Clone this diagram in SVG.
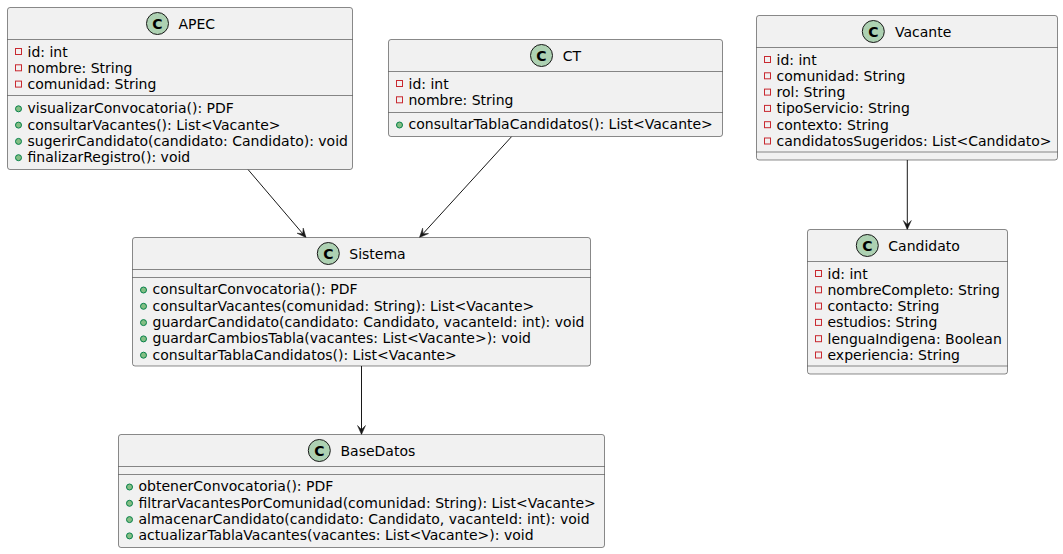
<svg xmlns="http://www.w3.org/2000/svg" width="1063" height="554" viewBox="0 0 1063 554">
<style>
.box{fill:#F1F1F1;stroke:#181818;stroke-width:0.5}
.sep{stroke:#181818;stroke-width:0.5}
.ci{fill:#ADD1B2;stroke:#181818;stroke-width:1}
.cl{font-family:"DejaVu Sans",sans-serif;font-size:14px;font-weight:bold;fill:#000;text-anchor:middle}
.t{font-family:"DejaVu Sans",sans-serif;font-size:14px;fill:#000}
.pr{fill:none;stroke:#C82930;stroke-width:1}
.pu{fill:#84BE84;stroke:#038048;stroke-width:1}
.edge{stroke:#181818;stroke-width:1;fill:none}
</style>
<defs>
<marker id="arr" viewBox="0 0 10 10" refX="10" refY="5" markerWidth="10" markerHeight="10" orient="auto" markerUnits="userSpaceOnUse">
<path d="M1,1 L10,5 L1,9 L5,5 Z" fill="#181818" stroke="#181818" stroke-width="0.5"/>
</marker>
</defs>
<rect width="1063" height="554" fill="#FFFFFF"/>

<g id="connectors">
<path class="edge" d="M248,169.5 L306,237.5" marker-end="url(#arr)"/>
<path class="edge" d="M511.7,136.5 L419.5,237.5" marker-end="url(#arr)"/>
<path class="edge" d="M361.5,366 L361.5,434.5" marker-end="url(#arr)"/>
<path class="edge" d="M907.3,160 L907.3,229.5" marker-end="url(#arr)"/>
</g>

<g id="APEC">
<rect class="box" x="7.5" y="7.5" width="345" height="162" rx="2.5"/>
<line class="sep" x1="7.5" y1="39.5" x2="352.5" y2="39.5"/>
<line class="sep" x1="7.5" y1="95.5" x2="352.5" y2="95.5"/>
<circle class="ci" cx="157.5" cy="23.5" r="11"/>
<text class="cl" x="157.5" y="28.5">C</text>
<text class="t" x="178.5" y="28.5">APEC</text>
<rect class="pr" x="15.5" y="48.5" width="6" height="6"/>
<text class="t" x="27.5" y="56.5">id: int</text>
<rect class="pr" x="15.5" y="64.8" width="6" height="6"/>
<text class="t" x="27.5" y="72.8">nombre: String</text>
<rect class="pr" x="15.5" y="81.1" width="6" height="6"/>
<text class="t" x="27.5" y="89.1">comunidad: String</text>
<circle class="pu" cx="18.5" cy="108.8" r="3"/>
<text class="t" x="27.5" y="113.2">visualizarConvocatoria(): PDF</text>
<circle class="pu" cx="18.5" cy="125.1" r="3"/>
<text class="t" x="27.5" y="129.5">consultarVacantes(): List&lt;Vacante&gt;</text>
<circle class="pu" cx="18.5" cy="141.4" r="3"/>
<text class="t" x="27.5" y="145.8">sugerirCandidato(candidato: Candidato): void</text>
<circle class="pu" cx="18.5" cy="157.7" r="3"/>
<text class="t" x="27.5" y="162.1">finalizarRegistro(): void</text>
</g>

<g id="CT">
<rect class="box" x="388.5" y="39.5" width="334" height="97" rx="2.5"/>
<line class="sep" x1="388.5" y1="71.5" x2="722.5" y2="71.5"/>
<line class="sep" x1="388.5" y1="112.5" x2="722.5" y2="112.5"/>
<circle class="ci" cx="541.5" cy="55.5" r="11"/>
<text class="cl" x="541.5" y="60.5">C</text>
<text class="t" x="562.7" y="60.5">CT</text>
<rect class="pr" x="396.5" y="80.5" width="6" height="6"/>
<text class="t" x="408.5" y="88.5">id: int</text>
<rect class="pr" x="396.5" y="96.8" width="6" height="6"/>
<text class="t" x="408.5" y="104.8">nombre: String</text>
<circle class="pu" cx="399.5" cy="125" r="3"/>
<text class="t" x="408.5" y="129.4">consultarTablaCandidatos(): List&lt;Vacante&gt;</text>
</g>

<g id="Vacante">
<rect class="box" x="756.5" y="15.5" width="301" height="144.5" rx="2.5"/>
<line class="sep" x1="756.5" y1="47.5" x2="1057.5" y2="47.5"/>
<line class="sep" x1="756.5" y1="152" x2="1057.5" y2="152"/>
<circle class="ci" cx="873.3" cy="31.5" r="11"/>
<text class="cl" x="873.3" y="36.5">C</text>
<text class="t" x="895" y="36.5">Vacante</text>
<rect class="pr" x="764.5" y="56.5" width="6" height="6"/>
<text class="t" x="776.5" y="64.5">id: int</text>
<rect class="pr" x="764.5" y="72.8" width="6" height="6"/>
<text class="t" x="776.5" y="80.8">comunidad: String</text>
<rect class="pr" x="764.5" y="89.1" width="6" height="6"/>
<text class="t" x="776.5" y="97.1">rol: String</text>
<rect class="pr" x="764.5" y="105.4" width="6" height="6"/>
<text class="t" x="776.5" y="113.4">tipoServicio: String</text>
<rect class="pr" x="764.5" y="121.7" width="6" height="6"/>
<text class="t" x="776.5" y="129.7">contexto: String</text>
<rect class="pr" x="764.5" y="138" width="6" height="6"/>
<text class="t" x="776.5" y="146">candidatosSugeridos: List&lt;Candidato&gt;</text>
</g>

<g id="Candidato">
<rect class="box" x="807.5" y="229.5" width="200" height="144.5" rx="2.5"/>
<line class="sep" x1="807.5" y1="261.5" x2="1007.5" y2="261.5"/>
<line class="sep" x1="807.5" y1="366" x2="1007.5" y2="366"/>
<circle class="ci" cx="867.3" cy="245.5" r="11"/>
<text class="cl" x="867.3" y="250.5">C</text>
<text class="t" x="888.3" y="250.5">Candidato</text>
<rect class="pr" x="815.5" y="270.5" width="6" height="6"/>
<text class="t" x="827.5" y="278.5">id: int</text>
<rect class="pr" x="815.5" y="286.8" width="6" height="6"/>
<text class="t" x="827.5" y="294.8">nombreCompleto: String</text>
<rect class="pr" x="815.5" y="303.1" width="6" height="6"/>
<text class="t" x="827.5" y="311.1">contacto: String</text>
<rect class="pr" x="815.5" y="319.4" width="6" height="6"/>
<text class="t" x="827.5" y="327.4">estudios: String</text>
<rect class="pr" x="815.5" y="335.7" width="6" height="6"/>
<text class="t" x="827.5" y="343.7">lenguaIndigena: Boolean</text>
<rect class="pr" x="815.5" y="352" width="6" height="6"/>
<text class="t" x="827.5" y="360">experiencia: String</text>
</g>

<g id="Sistema">
<rect class="box" x="132.5" y="237.5" width="458" height="128.5" rx="2.5"/>
<line class="sep" x1="132.5" y1="269.5" x2="590.5" y2="269.5"/>
<line class="sep" x1="132.5" y1="277.5" x2="590.5" y2="277.5"/>
<circle class="ci" cx="328.3" cy="253.5" r="11"/>
<text class="cl" x="328.3" y="258.5">C</text>
<text class="t" x="349.3" y="258.5">Sistema</text>
<circle class="pu" cx="143.5" cy="290" r="3"/>
<text class="t" x="152.5" y="294.4">consultarConvocatoria(): PDF</text>
<circle class="pu" cx="143.5" cy="306.3" r="3"/>
<text class="t" x="152.5" y="310.7">consultarVacantes(comunidad: String): List&lt;Vacante&gt;</text>
<circle class="pu" cx="143.5" cy="322.6" r="3"/>
<text class="t" x="152.5" y="327">guardarCandidato(candidato: Candidato, vacanteId: int): void</text>
<circle class="pu" cx="143.5" cy="338.9" r="3"/>
<text class="t" x="152.5" y="343.3">guardarCambiosTabla(vacantes: List&lt;Vacante&gt;): void</text>
<circle class="pu" cx="143.5" cy="355.2" r="3"/>
<text class="t" x="152.5" y="359.6">consultarTablaCandidatos(): List&lt;Vacante&gt;</text>
</g>

<g id="BaseDatos">
<rect class="box" x="118.5" y="434.5" width="486" height="113" rx="2.5"/>
<line class="sep" x1="118.5" y1="466.5" x2="604.5" y2="466.5"/>
<line class="sep" x1="118.5" y1="474.5" x2="604.5" y2="474.5"/>
<circle class="ci" cx="319.3" cy="450.5" r="11"/>
<text class="cl" x="319.3" y="455.5">C</text>
<text class="t" x="340.5" y="455.5">BaseDatos</text>
<circle class="pu" cx="129.5" cy="487" r="3"/>
<text class="t" x="138.5" y="491.4">obtenerConvocatoria(): PDF</text>
<circle class="pu" cx="129.5" cy="503.3" r="3"/>
<text class="t" x="138.5" y="507.7">filtrarVacantesPorComunidad(comunidad: String): List&lt;Vacante&gt;</text>
<circle class="pu" cx="129.5" cy="519.6" r="3"/>
<text class="t" x="138.5" y="524">almacenarCandidato(candidato: Candidato, vacanteId: int): void</text>
<circle class="pu" cx="129.5" cy="535.9" r="3"/>
<text class="t" x="138.5" y="540.3">actualizarTablaVacantes(vacantes: List&lt;Vacante&gt;): void</text>
</g>
</svg>
